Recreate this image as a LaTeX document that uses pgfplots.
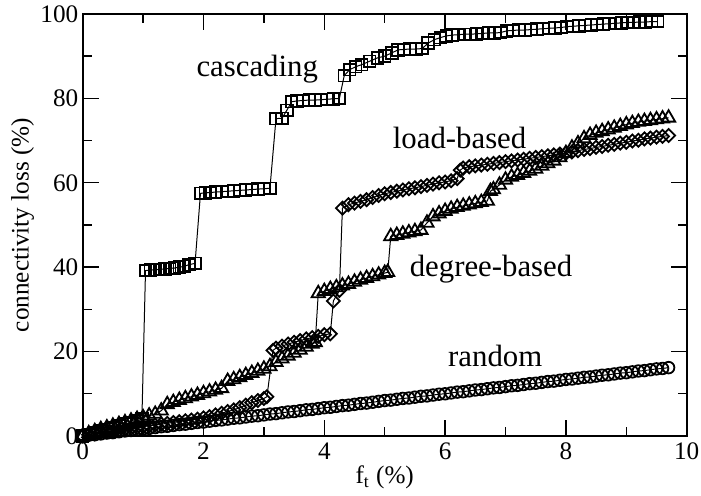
\documentclass[border=0pt]{standalone}
\usepackage{fontspec}
\setmainfont{Liberation Serif}
\usepackage{pgfplots}
\pgfplotsset{compat=1.18}

\begin{document}
\begin{tikzpicture}
  \begin{axis}[
      scale only axis,
      width=302pt, height=211pt,
      xmin=0, xmax=10, ymin=0, ymax=100,
      xtick={0,2,...,10}, ytick={0,20,...,100},
      minor x tick num=1, minor y tick num=1,
      tick align=inside,
      major tick length=8pt, minor tick length=4.5pt,
      axis line style={line width=1pt},
      every tick/.style={black, line width=0.7pt},
      /pgf/number format/assume math mode=true,
      tick label style={font=\fontsize{12.6}{14}\selectfont},
      yticklabel style={inner sep=2pt},
      label style={font=\fontsize{12.6}{15}\selectfont},
      xlabel={f\textsubscript{t} (\%)},
      ylabel={connectivity loss (\%)},
      xlabel style={at={(axis description cs:0.5,0)}, anchor=base, yshift=-24pt},
      ylabel style={at={(axis description cs:0,0.5)}, anchor=center, yshift=30pt},
    ]
    % cascading
    \addplot[black, line width=0.5pt, mark=square, mark size=2.9pt,
      mark options={line width=0.9pt}] coordinates {
      (0,0) (0.1,0.4) (0.2,0.8) (0.3,1.2) (0.4,1.6) (0.5,2.0) (0.6,2.4)
      (0.7,2.8) (0.8,3.2) (0.9,3.6) (0.98,4.0)
      (1.04,39.2) (1.12,39.3) (1.2,39.4) (1.28,39.5) (1.36,39.6) (1.44,39.7)
      (1.52,39.8) (1.6,40.0) (1.68,40.2) (1.76,40.6) (1.86,40.9)
      (1.95,57.5) (2.03,57.6) (2.11,57.7) (2.2,57.8) (2.3,57.9) (2.4,58.0)
      (2.5,58.1) (2.6,58.2) (2.7,58.3) (2.8,58.4) (2.9,58.5) (3.0,58.6) (3.1,58.7)
      (3.2,75.2) (3.3,75.3) (3.38,77.2) (3.46,79.2) (3.55,79.4) (3.65,79.5)
      (3.75,79.6) (3.85,79.6) (3.95,79.7) (4.05,79.8) (4.15,79.9) (4.25,80.0)
      (4.33,85.4) (4.42,86.8) (4.52,87.5) (4.62,88.0) (4.75,88.8) (4.88,89.6)
      (5.0,90.0) (5.12,90.8) (5.22,91.5) (5.32,91.6) (5.42,91.7) (5.52,91.7)
      (5.62,91.8) (5.72,93.1) (5.82,93.9) (5.92,94.4) (6.02,94.8) (6.12,95.0)
      (6.22,95.1) (6.32,95.2) (6.42,95.2) (6.52,95.3) (6.62,95.4) (6.72,95.5)
      (6.82,95.5) (6.92,95.6) (7.02,96.0) (7.12,96.1) (7.22,96.2) (7.32,96.2)
      (7.42,96.3) (7.52,96.4) (7.62,96.5) (7.72,96.6) (7.82,96.7) (7.92,96.8)
      (8.02,97.0) (8.12,97.1) (8.22,97.2) (8.32,97.3) (8.42,97.4) (8.52,97.5)
      (8.62,97.6) (8.72,97.7) (8.82,97.8) (8.92,97.9) (9.02,98.0) (9.12,98.0)
      (9.22,98.1) (9.32,98.1) (9.42,98.2) (9.52,98.2)
    };
    % load-based
    \addplot[black, line width=0.5pt, mark=square, mark size=2.3pt,
      mark options={line width=0.9pt, rotate=45}] coordinates {
      (0,0) (0.1,0.3) (0.2,0.5) (0.3,0.8) (0.4,1.0) (0.5,1.2) (0.6,1.4)
      (0.7,1.6) (0.8,1.8) (0.9,2.0) (1.0,2.2) (1.1,2.4) (1.2,2.6) (1.3,2.8)
      (1.4,3.0) (1.5,3.2) (1.6,3.4) (1.7,3.6) (1.8,3.8) (1.9,4.0) (2.0,4.3)
      (2.1,4.6) (2.2,5.0) (2.3,5.4) (2.4,5.8) (2.5,6.2) (2.6,6.7) (2.7,7.3)
      (2.8,7.9) (2.9,8.4) (3.0,8.9) (3.05,9.3)
      (3.15,20.3) (3.2,20.8) (3.3,21.3) (3.4,21.8) (3.5,22.2) (3.6,22.6)
      (3.7,23.0) (3.8,23.3) (3.9,23.6) (4.0,24.0) (4.1,24.2)
      (4.15,32.0) (4.25,34.5)
      (4.3,54.0) (4.4,54.8) (4.5,55.2) (4.6,55.6) (4.7,56.0) (4.8,56.5)
      (4.9,57.0) (5.0,57.4) (5.1,57.7) (5.2,58.0) (5.3,58.3) (5.4,58.6)
      (5.5,58.8) (5.6,59.1) (5.7,59.4) (5.8,59.7) (5.9,60.0) (6.0,60.2)
      (6.1,60.5) (6.2,61.0) (6.25,63.0) (6.3,63.5) (6.4,63.8) (6.5,64.0)
      (6.6,64.2) (6.7,64.4) (6.8,64.6) (6.9,64.8) (7.0,65.0) (7.1,65.2)
      (7.2,65.4) (7.3,65.6) (7.4,65.8) (7.5,66.0) (7.6,66.2) (7.7,66.4)
      (7.8,66.6) (7.9,66.8) (8.0,67.0) (8.1,67.3) (8.2,67.6) (8.3,67.9)
      (8.4,68.1) (8.5,68.4) (8.6,68.6) (8.7,68.9) (8.8,69.1) (8.9,69.4)
      (9.0,69.6) (9.1,69.9) (9.2,70.1) (9.3,70.4) (9.4,70.6) (9.5,70.8)
      (9.6,71.0) (9.7,71.2)
    };
    % degree-based
    \addplot[black, line width=0.5pt, mark=triangle, mark size=3.8pt,
      mark options={line width=0.9pt}] coordinates {
      (0,0) (0.1,0.6) (0.2,1.1) (0.3,1.6) (0.4,2.0) (0.5,2.4) (0.6,2.8)
      (0.7,3.2) (0.8,3.6) (0.9,4.0) (1.0,4.4) (1.1,4.8) (1.2,5.2) (1.3,6.0)
      (1.4,7.5) (1.5,8.0) (1.6,8.5) (1.7,8.9) (1.8,9.3) (1.9,9.7) (2.0,10.1)
      (2.1,10.5) (2.2,10.9) (2.3,11.3) (2.4,13.0) (2.5,13.4) (2.6,13.9)
      (2.7,14.4) (2.8,14.9) (2.9,15.4) (3.0,15.9) (3.1,16.5) (3.2,17.5)
      (3.3,18.3) (3.4,19.0) (3.5,19.7) (3.6,20.4) (3.7,21.1) (3.8,21.8)
      (3.85,22.2)
      (3.9,33.8) (4.0,34.3) (4.1,34.8) (4.2,35.2) (4.3,35.6) (4.4,36.0)
      (4.5,36.5) (4.6,37.0) (4.7,37.4) (4.8,37.8) (4.9,38.2) (5.0,38.6)
      (5.05,38.8)
      (5.1,47.3) (5.2,47.6) (5.3,47.9) (5.4,48.2) (5.5,48.5) (5.6,48.8)
      (5.7,50.5) (5.8,52.0) (5.9,52.7) (6.0,53.3) (6.1,53.8) (6.2,54.2)
      (6.3,54.5) (6.4,54.8) (6.5,55.1) (6.6,55.4) (6.7,55.7)
      (6.75,58.0) (6.8,58.4) (6.9,59.5) (7.0,60.7) (7.1,61.4) (7.2,61.8)
      (7.3,62.3) (7.4,62.8) (7.5,63.3) (7.6,64.0) (7.7,64.6) (7.8,65.2)
      (7.9,66.0) (8.0,67.0) (8.1,68.3) (8.2,69.3) (8.3,70.5) (8.4,71.3)
      (8.5,71.8) (8.6,72.2) (8.7,72.6) (8.8,73.0) (8.9,73.4) (9.0,73.8)
      (9.1,74.1) (9.2,74.4) (9.3,74.6) (9.4,74.8) (9.5,75.0) (9.6,75.2)
      (9.7,75.4)
    };
    % random
    \addplot[black, line width=0.5pt, mark=o, mark size=2.9pt,
      mark options={line width=0.9pt}] coordinates {
      (0,0) (0.1,0.2) (0.2,0.3) (0.3,0.5) (0.4,0.7) (0.5,0.8) (0.6,1.0)
      (0.7,1.2) (0.8,1.3) (0.9,1.5) (1.0,1.7) (1.1,1.8) (1.2,2.0) (1.3,2.2)
      (1.4,2.3) (1.5,2.5) (1.6,2.7) (1.7,2.8) (1.8,3.0) (1.9,3.2) (2.0,3.3)
      (2.1,3.5) (2.2,3.7) (2.3,3.8) (2.4,4.0) (2.5,4.2) (2.6,4.3) (2.7,4.5)
      (2.8,4.7) (2.9,4.8) (3.0,5.0) (3.1,5.2) (3.2,5.3) (3.3,5.5) (3.4,5.7)
      (3.5,5.8) (3.6,6.0) (3.7,6.2) (3.8,6.3) (3.9,6.5) (4.0,6.7) (4.1,6.8)
      (4.2,7.0) (4.3,7.2) (4.4,7.3) (4.5,7.5) (4.6,7.7) (4.7,7.8) (4.8,8.0)
      (4.9,8.2) (5.0,8.4) (5.1,8.5) (5.2,8.7) (5.3,8.9) (5.4,9.0) (5.5,9.2)
      (5.6,9.4) (5.7,9.5) (5.8,9.7) (5.9,9.9) (6.0,10.0) (6.1,10.2) (6.2,10.4)
      (6.3,10.5) (6.4,10.7) (6.5,10.9) (6.6,11.0) (6.7,11.2) (6.8,11.4)
      (6.9,11.5) (7.0,11.7) (7.1,11.9) (7.2,12.0) (7.3,12.2) (7.4,12.4)
      (7.5,12.5) (7.6,12.7) (7.7,12.9) (7.8,13.0) (7.9,13.2) (8.0,13.4)
      (8.1,13.5) (8.2,13.7) (8.3,13.9) (8.4,14.0) (8.5,14.2) (8.6,14.4)
      (8.7,14.5) (8.8,14.7) (8.9,14.9) (9.0,15.0) (9.1,15.2) (9.2,15.4)
      (9.3,15.5) (9.4,15.7) (9.5,15.9) (9.6,16.0) (9.7,16.2)
    };
    \begin{scope}[font=\fontsize{15.4}{18}\selectfont]
      \node[anchor=base] at (axis cs:2.89,85.3) {cascading};
      \node[anchor=base] at (axis cs:6.24,68.2) {load-based};
      \node[anchor=base] at (axis cs:6.76,37.8) {degree-based};
      \node[anchor=base] at (axis cs:6.83,16.4) {random};
    \end{scope}
  \end{axis}
  \pgfresetboundingbox
  \path[use as bounding box] ([shift={(-41.35pt,-30pt)}]current axis.south west)
    rectangle ([shift={(7.15pt,7pt)}]current axis.north east);
\end{tikzpicture}
\end{document}
